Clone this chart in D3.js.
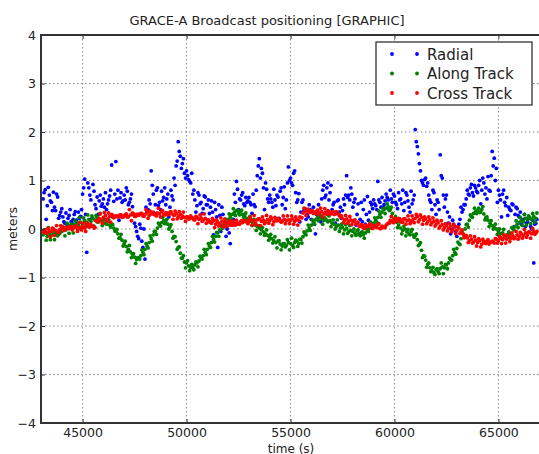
<!DOCTYPE html>
<html>
<head>
<meta charset="utf-8">
<script src="https://cdn.jsdelivr.net/npm/d3@7"></script>
<style>
  body { margin: 0; background: #fff; }
  svg { display: block; font-family: "DejaVu Sans", sans-serif; }
</style>
</head>
<body>
<svg id="chart" width="539" height="454"></svg>
<script>
// sample times (s), first pass
const epochs = [
  43100,43200,43300,43400,43500,43600,43700,43800,43900,
  44000,44100,44200,44300,44400,44500,44600,44700,44800,44900,
  45000,45100,45200,45300,45400,45500,45600,45700,45800,45900,
  46000,46100,46200,46300,46400,46500,46600,46700,46800,46900,
  47000,47100,47200,47300,47400,47500,47600,47700,47800,47900,
  48000,48100,48200,48300,48400,48500,48600,48700,48800,48900,
  49000,49100,49200,49300,49400,49500,49600,49700,49800,49900,
  50000,50100,50200,50300,50400,50500,50600,50700,50800,50900,
  51000,51100,51200,51300,51400,51500,51600,51700,51800,51900,
  52000,52100,52200,52300,52400,52500,52600,52700,52800,52900,
  53000,53100,53200,53300,53400,53500,53600,53700,53800,53900,
  54000,54100,54200,54300,54400,54500,54600,54700,54800,54900,
  55000,55100,55200,55300,55400,55500,55600,55700,55800,55900,
  56000,56100,56200,56300,56400,56500,56600,56700,56800,56900,
  57000,57100,57200,57300,57400,57500,57600,57700,57800,57900,
  58000,58100,58200,58300,58400,58500,58600,58700,58800,58900,
  59000,59100,59200,59300,59400,59500,59600,59700,59800,59900,
  60000,60100,60200,60300,60400,60500,60600,60700,60800,60900,
  61000,61100,61200,61300,61400,61500,61600,61700,61800,61900,
  62000,62100,62200,62300,62400,62500,62600,62700,62800,62900,
  63000,63100,63200,63300,63400,63500,63600,63700,63800,63900,
  64000,64100,64200,64300,64400,64500,64600,64700,64800,64900,
  65000,65100,65200,65300,65400,65500,65600,65700,65800,65900,
  66000,66100,66200,66300,66400,66500,66600,66700,66800
];
// sample times (s), in-between pass
const epochsB = [
  43150,43250,43350,43450,43550,43650,43750,43850,43950,
  44050,44150,44250,44350,44450,44550,44650,44750,44850,44950,
  45050,45150,45250,45350,45450,45550,45650,45750,45850,45950,
  46050,46150,46250,46350,46450,46550,46650,46750,46850,46950,
  47050,47150,47250,47350,47450,47550,47650,47750,47850,47950,
  48050,48150,48250,48350,48450,48550,48650,48750,48850,48950,
  49050,49150,49250,49350,49450,49550,49650,49750,49850,49950,
  50050,50150,50250,50350,50450,50550,50650,50750,50850,50950,
  51050,51150,51250,51350,51450,51550,51650,51750,51850,51950,
  52050,52150,52250,52350,52450,52550,52650,52750,52850,52950,
  53050,53150,53250,53350,53450,53550,53650,53750,53850,53950,
  54050,54150,54250,54350,54450,54550,54650,54750,54850,54950,
  55050,55150,55250,55350,55450,55550,55650,55750,55850,55950,
  56050,56150,56250,56350,56450,56550,56650,56750,56850,56950,
  57050,57150,57250,57350,57450,57550,57650,57750,57850,57950,
  58050,58150,58250,58350,58450,58550,58650,58750,58850,58950,
  59050,59150,59250,59350,59450,59550,59650,59750,59850,59950,
  60050,60150,60250,60350,60450,60550,60650,60750,60850,60950,
  61050,61150,61250,61350,61450,61550,61650,61750,61850,61950,
  62050,62150,62250,62350,62450,62550,62650,62750,62850,62950,
  63050,63150,63250,63350,63450,63550,63650,63750,63850,63950,
  64050,64150,64250,64350,64450,64550,64650,64750,64850,64950,
  65050,65150,65250,65350,65450,65550,65650,65750,65850,65950,
  66050,66150,66250,66350,66450,66550,66650,66750,66850
];

const radial = [
  0.62,0.81,0.48,0.70,0.55,0.76,0.38,0.66,0.28,
  0.42,0.15,0.33,0.22,0.40,0.12,0.30,0.18,0.35,0.26,
  0.72,1.03,-0.48,0.85,0.60,0.92,0.50,0.66,0.58,0.47,
  0.62,0.75,0.52,0.68,1.32,0.57,1.39,0.80,0.64,0.55,
  0.70,0.85,0.50,0.62,0.46,0.12,-0.05,-0.20,0.02,-0.38,
  -0.62,0.35,0.60,1.20,0.72,0.50,0.85,0.55,0.78,0.65,
  0.50,0.72,0.45,0.68,1.05,1.30,1.80,1.50,1.35,1.15,
  1.20,1.02,0.95,0.72,0.60,0.48,0.70,0.55,0.42,0.66,
  0.50,0.32,0.58,-0.12,0.40,-0.38,0.28,0.45,0.05,-0.15,
  0.15,-0.30,0.08,0.72,0.98,0.40,0.60,0.75,0.48,0.55,
  0.65,0.50,0.72,0.46,1.10,1.45,1.25,0.85,0.95,0.62,
  0.70,0.55,0.82,0.48,0.66,0.78,0.50,0.87,0.60,1.28,
  1.05,0.90,1.20,0.55,0.73,0.35,0.60,0.42,0.30,0.50,
  0.20,0.45,-0.10,0.38,0.25,0.62,0.90,0.70,0.95,0.75,
  0.40,0.55,0.32,0.60,0.45,0.38,0.50,1.10,0.70,0.85,
  0.45,0.62,0.30,-0.10,0.55,0.40,0.10,0.67,0.35,0.50,
  0.60,0.48,0.98,0.55,0.65,0.50,0.72,0.60,0.80,0.55,
  0.68,0.50,0.75,0.62,0.80,0.55,0.70,0.45,0.78,0.60,
  2.05,1.70,1.35,1.00,0.90,1.05,0.95,0.60,0.40,0.75,
  0.30,0.55,1.53,1.05,0.45,0.70,0.12,-0.10,0.18,0.05,
  -0.15,0.10,0.45,0.40,0.50,0.80,0.70,0.92,0.68,0.85,
  0.75,1.00,0.80,0.95,0.85,1.08,0.78,1.60,1.46,1.25,
  0.80,0.60,0.72,0.55,0.65,0.45,0.38,0.50,0.30,0.42,
  0.25,0.10,0.20,0.05,0.15,0.22,0.00,-0.70,0.12
];
const radialB = [
  0.75,0.20,0.86,0.58,0.38,0.45,0.72,0.22,0.35,
  0.25,0.12,0.10,0.28,0.15,0.20,0.36,0.05,0.22,0.40,
  0.85,0.30,0.95,0.70,0.22,0.78,0.42,0.30,0.70,0.52,
  0.45,0.40,0.60,0.80,0.25,0.72,0.62,0.18,0.75,0.58,
  0.60,0.78,0.55,0.72,0.30,0.05,-0.15,0.10,-0.25,0.00,
  0.45,0.40,0.52,0.90,0.32,0.80,0.48,0.40,0.58,0.85,
  0.62,0.25,0.80,0.60,0.90,1.40,1.60,1.25,1.45,1.05,
  1.10,0.98,1.15,0.80,0.35,0.75,0.52,0.32,0.68,0.50,
  0.60,0.45,0.35,0.55,0.25,0.50,-0.05,0.30,0.15,0.00,
  -0.08,0.10,0.20,0.55,0.82,0.62,0.70,0.52,0.65,0.58,
  0.55,0.32,0.50,0.80,1.30,1.05,1.15,0.40,0.82,0.55,
  0.62,0.45,0.60,0.70,0.22,0.85,0.65,0.42,0.95,1.00,
  0.95,1.15,0.75,0.60,0.15,0.55,0.38,0.20,0.25,0.40,
  0.35,0.10,0.30,0.50,0.15,0.80,0.65,0.85,0.60,0.90,
  0.50,0.12,0.58,0.35,0.22,0.62,0.70,0.65,0.60,0.72,
  0.55,0.08,0.52,0.20,0.15,0.60,0.30,0.18,0.55,0.42,
  0.52,0.40,0.60,0.45,0.45,0.58,0.65,0.40,0.62,0.72,
  0.55,0.42,0.60,0.52,0.38,0.75,0.58,0.35,0.52,0.70,
  1.80,1.55,1.20,0.95,1.02,0.88,0.70,0.55,0.80,0.50,
  0.60,0.40,1.10,0.70,0.62,0.35,0.25,0.00,0.10,-0.05,
  0.05,0.20,0.35,0.50,0.62,0.72,0.85,0.75,0.90,0.78,
  0.90,0.52,1.05,0.72,0.62,0.80,1.10,1.30,1.00,0.55,
  0.70,0.25,0.80,0.48,0.28,0.40,0.52,0.05,0.45,0.28,
  0.35,0.18,0.30,0.12,0.25,0.05,0.18,0.10,0.20
];

const alongTrack = [
  -0.12,-0.08,-0.15,-0.10,-0.13,-0.07,-0.11,-0.14,-0.09,
  -0.05,0.00,-0.02,0.04,0.07,0.03,0.09,0.12,0.08,0.14,
  0.11,0.17,0.13,0.20,0.16,0.22,0.18,0.24,0.20,0.17,
  0.18,0.12,0.15,0.08,0.10,0.02,-0.05,-0.10,-0.18,-0.23,
  -0.30,-0.36,-0.42,-0.47,-0.52,-0.58,-0.63,-0.60,-0.55,-0.48,
  -0.42,-0.35,-0.28,-0.20,-0.12,-0.05,0.02,0.08,0.13,0.17,
  0.15,0.10,0.04,-0.05,-0.15,-0.26,-0.38,-0.50,-0.60,-0.68,
  -0.70,-0.76,-0.80,-0.78,-0.74,-0.70,-0.66,-0.60,-0.55,-0.48,
  -0.42,-0.35,-0.28,-0.22,-0.15,-0.08,-0.02,0.04,0.10,0.15,
  0.20,0.25,0.30,0.34,0.38,0.33,0.36,0.30,0.27,0.22,
  0.20,0.16,0.12,0.08,0.05,0.02,-0.02,-0.06,-0.10,-0.13,
  -0.17,-0.20,-0.24,-0.28,-0.25,-0.31,-0.35,-0.30,-0.34,-0.28,
  -0.30,-0.34,-0.28,-0.25,-0.30,-0.22,-0.16,-0.10,-0.04,0.02,
  0.08,0.14,0.19,0.24,0.27,0.22,0.18,0.20,0.15,0.17,
  0.12,0.10,0.05,0.08,0.02,0.04,-0.02,0.01,-0.05,-0.03,
  -0.05,-0.09,-0.04,-0.10,-0.07,-0.12,-0.08,-0.03,0.02,0.08,
  0.12,0.18,0.24,0.30,0.35,0.40,0.43,0.46,0.40,0.32,
  0.22,0.14,0.08,0.02,-0.03,0.00,-0.06,-0.10,-0.05,-0.12,
  -0.14,-0.22,-0.32,-0.44,-0.55,-0.64,-0.73,-0.80,-0.86,-0.90,
  -0.84,-0.88,-0.82,-0.78,-0.80,-0.74,-0.70,-0.63,-0.55,-0.48,
  -0.40,-0.30,-0.20,-0.10,0.00,0.10,0.18,0.26,0.32,0.36,
  0.38,0.34,0.40,0.31,0.24,0.18,0.12,0.07,0.03,0.00,
  -0.05,-0.10,-0.08,-0.14,-0.12,-0.06,-0.10,0.00,0.05,0.10,
  0.13,0.18,0.15,0.22,0.19,0.24,0.20,0.26,0.22
];
const alongTrackB = [
  -0.02,-0.23,0.03,-0.22,-0.05,-0.22,-0.09,-0.11,-0.02,
  0.05,-0.14,0.12,-0.09,0.10,-0.08,0.17,0.01,0.24,0.02,
  0.23,0.05,0.29,0.05,0.27,0.06,0.28,0.14,0.32,0.07,
  0.21,0.10,0.20,0.04,0.09,-0.04,-0.01,-0.19,-0.11,-0.35,
  -0.25,-0.47,-0.34,-0.59,-0.51,-0.71,-0.59,-0.62,-0.43,-0.53,
  -0.30,-0.39,-0.14,-0.25,-0.05,-0.11,0.12,0.06,0.24,0.11,
  0.20,0.00,0.09,-0.19,-0.16,-0.42,-0.37,-0.60,-0.55,-0.80,
  -0.65,-0.86,-0.73,-0.84,-0.68,-0.78,-0.56,-0.62,-0.42,-0.53,
  -0.30,-0.38,-0.15,-0.27,-0.07,-0.15,0.08,0.02,0.21,0.10,
  0.31,0.21,0.42,0.28,0.39,0.29,0.39,0.24,0.33,0.13,
  0.26,0.07,0.20,-0.03,0.07,-0.10,0.03,-0.13,-0.02,-0.23,
  -0.11,-0.29,-0.16,-0.39,-0.24,-0.43,-0.30,-0.37,-0.22,-0.43,
  -0.19,-0.38,-0.23,-0.36,-0.21,-0.29,-0.06,-0.12,0.08,-0.03,
  0.19,0.10,0.31,0.17,0.28,0.10,0.23,0.17,0.27,0.05,
  0.19,0.00,0.19,-0.05,0.10,-0.10,0.09,-0.09,0.07,-0.14,
  0.00,-0.13,-0.02,-0.14,-0.06,-0.19,0.02,-0.05,0.14,0.02,
  0.23,0.14,0.37,0.24,0.42,0.32,0.52,0.38,0.45,0.19,
  0.26,0.03,0.15,-0.10,0.06,-0.14,-0.01,-0.12,-0.01,-0.17,
  -0.10,-0.34,-0.28,-0.59,-0.56,-0.79,-0.70,-0.88,-0.79,-0.94,
  -0.82,-0.92,-0.70,-0.92,-0.73,-0.82,-0.60,-0.64,-0.42,-0.52,
  -0.27,-0.32,-0.05,-0.14,0.09,0.04,0.29,0.24,0.43,0.32,
  0.43,0.35,0.46,0.19,0.25,0.05,0.17,0.00,0.10,-0.11,
  0.00,-0.19,-0.01,-0.18,-0.11,-0.18,0.03,-0.02,0.17,0.03,
  0.24,0.07,0.30,0.08,0.27,0.11,0.32,0.14,0.33
];

const crossTrack = [
  -0.06,-0.02,-0.08,-0.04,-0.05,0.00,-0.03,-0.06,-0.01,
  0.02,-0.03,0.04,0.01,0.05,-0.02,0.03,0.06,0.00,0.04,
  0.05,0.02,0.08,0.04,0.09,0.06,0.03,0.15,0.22,0.19,
  0.24,0.28,0.21,0.26,0.30,0.23,0.27,0.25,0.29,0.24,
  0.27,0.31,0.25,0.29,0.33,0.26,0.30,0.28,0.32,0.27,
  0.30,0.34,0.28,0.32,0.35,0.29,0.33,0.31,0.36,0.30,
  0.33,0.29,0.35,0.31,0.28,0.32,0.26,0.30,0.27,0.24,
  0.25,0.21,0.27,0.22,0.19,0.24,0.20,0.23,0.18,0.22,
  0.19,0.15,0.12,0.17,0.10,0.14,0.11,0.16,0.09,0.13,
  0.14,0.08,0.16,0.12,0.18,0.10,0.15,0.13,0.17,0.14,
  0.16,0.20,0.17,0.14,0.19,0.21,0.16,0.18,0.15,0.20,
  0.17,0.21,0.15,0.19,0.22,0.18,0.16,0.20,0.17,0.19,
  0.18,0.21,0.16,0.20,0.17,0.24,0.33,0.36,0.38,0.34,
  0.37,0.32,0.35,0.39,0.33,0.36,0.31,0.35,0.38,0.32,
  0.34,0.30,0.36,0.31,0.27,0.22,0.18,0.21,0.16,0.19,
  0.15,0.19,0.10,0.06,0.09,0.03,0.08,0.05,0.10,0.02,
  0.07,0.04,0.09,0.01,0.06,0.03,0.08,0.12,0.18,0.15,
  0.20,0.16,0.22,0.18,0.14,0.21,0.17,0.19,0.15,0.20,
  0.22,0.26,0.19,0.24,0.18,0.21,0.15,0.19,0.13,0.16,
  0.10,0.13,0.06,0.09,0.03,0.07,0.01,0.05,-0.02,0.04,
  -0.03,0.02,-0.06,-0.10,-0.14,-0.18,-0.24,-0.21,-0.27,-0.23,
  -0.28,-0.24,-0.31,-0.26,-0.30,-0.22,-0.27,-0.25,-0.29,-0.21,
  -0.24,-0.19,-0.22,-0.17,-0.21,-0.15,-0.19,-0.14,-0.18,-0.12,
  -0.15,-0.10,-0.13,-0.08,-0.12,-0.06,-0.10,-0.05,-0.09
];
const crossTrackB = [
  -0.04,-0.08,0.01,-0.16,0.02,-0.13,0.07,-0.07,0.07,
  0.04,0.00,0.02,0.01,0.05,0.02,0.06,-0.05,0.13,-0.02,
  0.12,-0.05,0.12,0.05,0.06,0.02,0.17,0.17,0.31,0.12,
  0.34,0.17,0.33,0.14,0.28,0.25,0.27,0.26,0.29,0.25,
  0.29,0.25,0.40,0.17,0.31,0.26,0.30,0.31,0.32,0.26,
  0.40,0.22,0.37,0.31,0.30,0.27,0.43,0.25,0.38,0.29,
  0.33,0.31,0.36,0.20,0.37,0.21,0.36,0.22,0.35,0.16,
  0.25,0.21,0.24,0.19,0.26,0.11,0.29,0.16,0.31,0.12,
  0.19,0.15,0.22,0.03,0.18,0.06,0.23,0.05,0.20,0.05,
  0.16,0.12,0.08,0.08,0.12,0.10,0.17,0.16,0.17,0.11,
  0.24,0.08,0.28,0.09,0.21,0.07,0.25,0.11,0.28,0.12,
  0.25,0.09,0.24,0.17,0.18,0.14,0.27,0.11,0.27,0.11,
  0.27,0.10,0.25,0.08,0.25,0.23,0.43,0.28,0.41,0.35,
  0.38,0.33,0.36,0.30,0.43,0.25,0.42,0.30,0.36,0.31,
  0.36,0.32,0.34,0.27,0.27,0.13,0.28,0.12,0.26,0.09,
  0.17,0.11,0.14,0.05,0.07,0.01,0.06,0.06,0.10,0.01,
  0.07,0.03,0.11,0.01,0.05,0.03,0.10,0.12,0.26,0.13,
  0.22,0.18,0.21,0.14,0.21,0.10,0.27,0.11,0.27,0.13,
  0.30,0.15,0.29,0.10,0.25,0.11,0.25,0.09,0.23,0.06,
  0.18,0.02,0.17,-0.02,0.11,-0.04,0.11,-0.06,0.09,-0.10,
  0.05,-0.09,-0.02,-0.18,-0.13,-0.28,-0.14,-0.29,-0.16,-0.35,
  -0.20,-0.37,-0.21,-0.29,-0.25,-0.31,-0.27,-0.26,-0.20,-0.29,
  -0.15,-0.30,-0.12,-0.29,-0.13,-0.26,-0.08,-0.20,-0.05,-0.21,
  -0.07,-0.19,-0.01,-0.17,-0.06,-0.19,0.01,-0.11,-0.05
];

const seriesNames = ['Radial', 'Along Track', 'Cross Track'];
const seriesColors = ['#0000ff', '#008000', '#ff0000'];
const xTicks = [45000, 50000, 55000, 60000, 65000];
const yTicks = [-4, -3, -2, -1, 0, 1, 2, 3, 4];

const CHART_WIDTH = 539;
const CHART_HEIGHT = 454;
const PLOT = { left: 41, top: 35, right: 540, bottom: 423 };
const DOT_R = 1.9;

let svg = d3.select('#chart');

let xScale = d3.scaleLinear()
    .domain([43000, 67000])
    .range([PLOT.left, PLOT.right]);
let yScale = d3.scaleLinear()
    .domain([-4, 4])
    .range([PLOT.bottom, PLOT.top]);

// dotted grid
let grid = svg.append('g').attr('stroke', '#888').attr('stroke-width', 1).attr('stroke-dasharray', '1.5,2.5');
grid.selectAll('.vgrid')
    .data(xTicks)
    .join('line')
    .attr('x1', d => xScale(d)).attr('x2', d => xScale(d))
    .attr('y1', PLOT.top).attr('y2', PLOT.bottom);
grid.selectAll('.hgrid')
    .data(yTicks.slice(1, -1))
    .join('line')
    .attr('x1', PLOT.left).attr('x2', PLOT.right)
    .attr('y1', d => yScale(d)).attr('y2', d => yScale(d));

// scatter points: each series has two interleaved passes; red drawn last (on top)
let series = [[radial, radialB], [alongTrack, alongTrackB], [crossTrack, crossTrackB]];
series.forEach((pair, k) => {
    let pts = pair[0].map((v, i) => [epochs[i], v])
        .concat(pair[1].map((v, i) => [epochsB[i], v]));
    svg.append('g')
        .attr('fill', seriesColors[k])
        .selectAll('circle')
        .data(pts)
        .join('circle')
        .attr('cx', d => xScale(d[0]))
        .attr('cy', d => yScale(d[1]))
        .attr('r', DOT_R);
});

// axes (ticks pointing inward)
let xAxis = svg.append('g')
    .attr('transform', `translate(0, ${PLOT.bottom})`)
    .call(d3.axisBottom(xScale).tickValues(xTicks).tickSize(-4).tickPadding(5).tickFormat(d3.format('d')));
let xAxisTop = svg.append('g')
    .attr('transform', `translate(0, ${PLOT.top})`)
    .call(d3.axisTop(xScale).tickValues(xTicks).tickSize(-4).tickFormat(''));
let yAxis = svg.append('g')
    .attr('transform', `translate(${PLOT.left}, 0)`)
    .call(d3.axisLeft(yScale).tickValues(yTicks).tickSize(-4).tickPadding(5).tickFormat(d3.format('d')));

[xAxis, xAxisTop, yAxis].forEach(a => {
    a.select('.domain').remove();
    a.selectAll('.tick line').attr('stroke', '#333').attr('stroke-width', 1);
    a.selectAll('.tick text')
        .attr('fill', '#222')
        .attr('font-size', '12.5px')
        .attr('font-family', '"DejaVu Sans", sans-serif');
});

// spines (right one falls outside the picture)
svg.append('path')
    .attr('d', `M${PLOT.right},${PLOT.top}H${PLOT.left}V${PLOT.bottom}H${PLOT.right}`)
    .attr('fill', 'none')
    .attr('stroke', '#333')
    .attr('stroke-width', 2);

// titles
svg.append('text')
    .text('GRACE-A Broadcast positioning [GRAPHIC]')
    .attr('x', 267).attr('y', 25)
    .attr('text-anchor', 'middle')
    .attr('font-size', '13px')
    .attr('fill', '#222');
svg.append('text')
    .text('time (s)')
    .attr('x', 291).attr('y', 452.5)
    .attr('text-anchor', 'middle')
    .attr('font-size', '12px')
    .attr('fill', '#222');
svg.append('text')
    .text('meters')
    .attr('transform', 'translate(17, 229) rotate(-90)')
    .attr('text-anchor', 'middle')
    .attr('font-size', '12.5px')
    .attr('fill', '#222');

// legend
let legend = svg.append('g');
legend.append('rect')
    .attr('x', 376).attr('y', 42)
    .attr('width', 156).attr('height', 63)
    .attr('fill', '#fff')
    .attr('stroke', '#333')
    .attr('stroke-width', 1.3);
let rows = legend.selectAll('.row')
    .data(seriesNames)
    .join('g')
    .attr('transform', (d, i) => `translate(0, ${54 + i * 19.5})`);
rows.selectAll('circle')
    .data((d, i) => [392, 417].map(x => ({ x: x, c: seriesColors[i] })))
    .join('circle')
    .attr('cx', d => d.x)
    .attr('cy', 0)
    .attr('r', DOT_R)
    .attr('fill', d => d.c);
rows.append('text')
    .text(d => d)
    .attr('x', 427)
    .attr('y', 5.5)
    .attr('font-size', '15px')
    .attr('fill', '#222');
</script>
</body>
</html>
